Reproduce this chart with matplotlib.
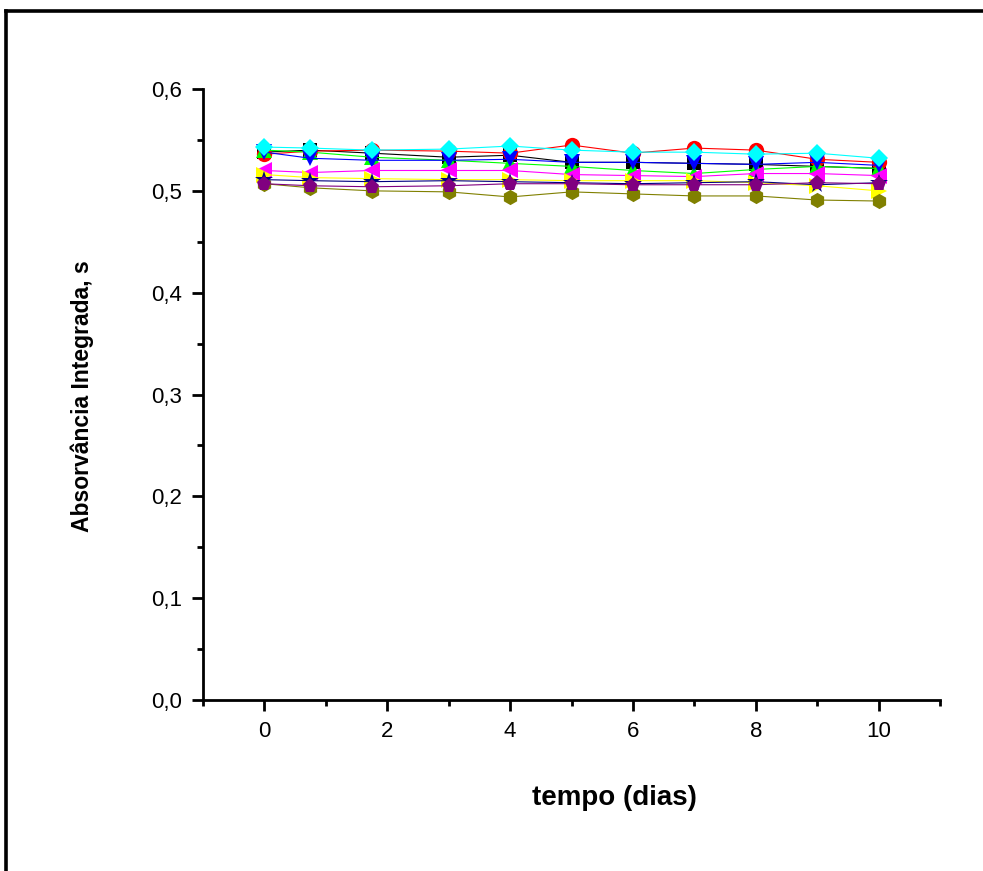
import matplotlib
matplotlib.use('Agg')
import matplotlib.pyplot as plt
from matplotlib.ticker import MultipleLocator, FuncFormatter
from matplotlib.lines import Line2D

plt.rcParams['font.family'] = ['Liberation Sans', 'DejaVu Sans']

# tempo (dias)
dias = [0, 0.75, 1.75, 3, 4, 5, 6, 7, 8, 9, 10]

preto = [0.538, 0.540, 0.537, 0.533, 0.535, 0.528, 0.528, 0.527, 0.526, 0.524, 0.522]
vermelho = [0.536, 0.539, 0.540, 0.539, 0.537, 0.545, 0.537, 0.542, 0.540, 0.531, 0.528]
verde = [0.540, 0.538, 0.533, 0.530, 0.527, 0.524, 0.520, 0.517, 0.521, 0.524, 0.522]
azul = [0.538, 0.532, 0.530, 0.530, 0.531, 0.528, 0.528, 0.527, 0.526, 0.528, 0.525]
ciano = [0.543, 0.542, 0.540, 0.541, 0.544, 0.540, 0.538, 0.538, 0.536, 0.537, 0.532]
magenta = [0.520, 0.518, 0.520, 0.520, 0.520, 0.516, 0.515, 0.514, 0.517, 0.517, 0.515]
amarelo = [0.516, 0.513, 0.512, 0.511, 0.511, 0.510, 0.510, 0.510, 0.508, 0.505, 0.500]
oliva = [0.507, 0.503, 0.500, 0.499, 0.494, 0.499, 0.497, 0.495, 0.495, 0.491, 0.490]
marinho = [0.511, 0.510, 0.509, 0.510, 0.509, 0.508, 0.507, 0.508, 0.509, 0.506, 0.508]
roxo = [0.507, 0.505, 0.504, 0.505, 0.507, 0.507, 0.506, 0.506, 0.506, 0.508, 0.507]

series = [
    (preto, '#000000', 's'),
    (vermelho, '#ff0000', 'o'),
    (verde, '#00ff00', '^'),
    (azul, '#0000ff', 'v'),
    (ciano, '#00ffff', 'D'),
    (magenta, '#ff00ff', '<'),
    (amarelo, '#ffff00', '>'),
    (oliva, '#808000', 'h'),
    (marinho, '#000080', '*'),
    (roxo, '#800080', 'p'),
]

fg = plt.figure(figsize=(9.83, 8.71), dpi=100)
ax = fg.add_axes([0.2065, 0.1963, 0.7498, 0.7015])

for vals, cor, mk in series:
    ms = 11
    if mk in ('D', 's'):
        ms = 9.5
    elif mk == '*':
        ms = 13
    ax.plot(dias, vals, color=cor, marker=mk, markersize=ms,
            markeredgewidth=0, linewidth=0.8, clip_on=False)

ax.set_xlim(-1, 11)
ax.set_ylim(0, 0.6)
for s in ('top', 'right'):
    ax.spines[s].set_visible(False)
for s in ('left', 'bottom'):
    ax.spines[s].set_linewidth(2)

ax.xaxis.set_major_locator(MultipleLocator(2))
ax.yaxis.set_major_locator(MultipleLocator(0.1))
ax.yaxis.set_minor_locator(MultipleLocator(0.05))
ax.set_xticks([-1, 1, 3, 5, 7, 9, 11], minor=True)
ax.yaxis.set_major_formatter(FuncFormatter(lambda v, p: '{:.1f}'.format(v).replace('.', ',')))
ax.xaxis.set_major_formatter(FuncFormatter(lambda v, p: '{:d}'.format(int(round(v)))))
ax.tick_params(which='major', direction='out', length=8, width=2, labelsize=16, pad=7)
ax.tick_params(which='minor', direction='out', length=4, width=2)

fg.text(614 / 983, 1 - 798 / 871, 'tempo (dias)', ha='center', va='center',
        fontsize=20, fontweight='bold')
fg.text(82 / 983, 1 - 396 / 871, 'Absorvância Integrada, s', ha='center', va='center',
        rotation=90, fontsize=16.5, fontweight='bold')

# moldura
fg.add_artist(Line2D([6 / 983, 1.0], [1 - 11 / 871] * 2, transform=fg.transFigure,
                     color='black', linewidth=2.6))
fg.add_artist(Line2D([6 / 983] * 2, [0.0, 1 - 11 / 871], transform=fg.transFigure,
                     color='black', linewidth=2.6))

fg.savefig('out.png', dpi=100)
